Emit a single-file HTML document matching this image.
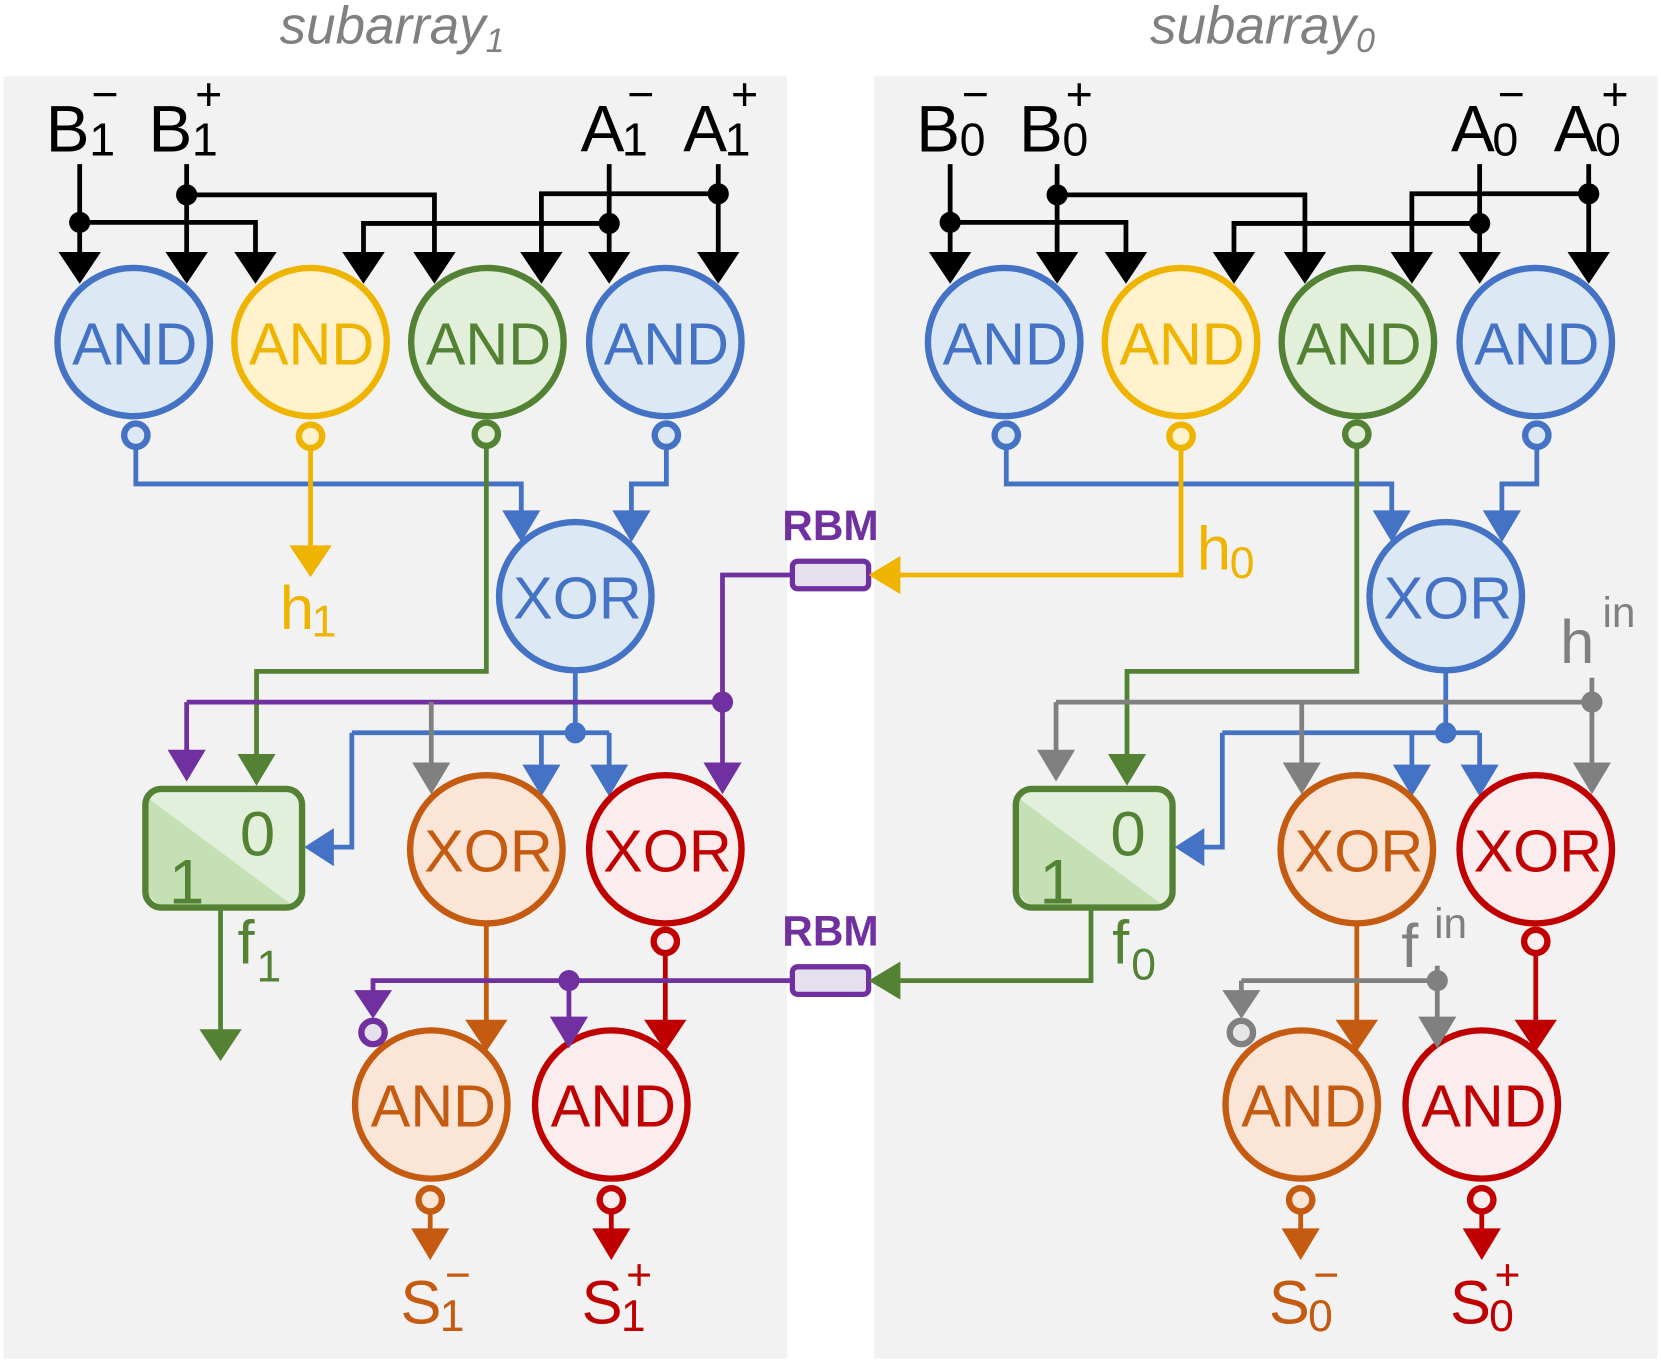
<!DOCTYPE html>
<html><head><meta charset="utf-8"><style>
html,body{margin:0;padding:0;background:#fff;}
svg{display:block;}
text{font-family:"Liberation Sans",sans-serif;}
</style></head><body>
<svg width="1661" height="1365" viewBox="0 0 1568 1289" xmlns="http://www.w3.org/2000/svg">
<rect x="3" y="72" width="740" height="1211" fill="#f2f2f2"/>
<rect x="825" y="72" width="740" height="1211" fill="#f2f2f2"/>
<text x="370" y="41" font-size="50" font-style="italic" fill="#808080" text-anchor="middle">subarray<tspan font-size="32" dy="8">1</tspan></text>
<text x="1192" y="41" font-size="50" font-style="italic" fill="#808080" text-anchor="middle">subarray<tspan font-size="32" dy="8">0</tspan></text>

<g id="L">
<g stroke="#000" stroke-width="4.5" fill="none">
<path d="M75,155V240M176,155V240M575,155V240M678,155V240"/>
<path d="M176,184H410V240M678,183H511V240M75,210H241V240M575,211H343V240"/>
</g>
<g fill="#000">
<circle cx="75" cy="210" r="10"/><circle cx="176" cy="184" r="10"/><circle cx="575" cy="211" r="10"/><circle cx="678" cy="183" r="10"/>
<polygon points="55,238 95,238 75,268"/><polygon points="156,238 196,238 176,268"/><polygon points="221,238 261,238 241,268"/><polygon points="323,238 363,238 343,268"/>
<polygon points="390,238 430,238 410,268"/><polygon points="491,238 531,238 511,268"/><polygon points="555,238 595,238 575,268"/><polygon points="658,238 698,238 678,268"/>
</g>
<g stroke-width="6">
<ellipse cx="126" cy="323" rx="72" ry="70" fill="#dde8f5" stroke="#4472c4"/>
<ellipse cx="293" cy="323" rx="72" ry="70" fill="#fff2cc" stroke="#efb400"/>
<ellipse cx="460" cy="323" rx="72" ry="70" fill="#e2efda" stroke="#548235"/>
<ellipse cx="628" cy="323" rx="72" ry="70" fill="#dde8f5" stroke="#4472c4"/>
<circle cx="128" cy="411" r="11" fill="#dde8f5" stroke="#4472c4"/>
<circle cx="293" cy="412" r="11" fill="#fff2cc" stroke="#efb400"/>
<circle cx="459" cy="410" r="11" fill="#e2efda" stroke="#548235"/>
<circle cx="629" cy="411" r="11" fill="#dde8f5" stroke="#4472c4"/>
</g>
<g font-size="56" text-anchor="middle">
<text x="127" y="344" fill="#4472c4">AND</text>
<text x="294" y="344" fill="#efb400">AND</text>
<text x="461" y="344" fill="#548235">AND</text>
<text x="629" y="344" fill="#4472c4">AND</text>
</g>
<g stroke="#4472c4" stroke-width="4.5" fill="none">
<path d="M128,422V457H492V484M629,422V457H596V484"/>
<path d="M543,633V692M332,692H575M332,692V800H313M511,692V724M575,692V724"/>
</g>
<g fill="#4472c4">
<polygon points="474,482 510,482 492,512"/><polygon points="578,482 614,482 596,512"/>
<circle cx="543" cy="692" r="10"/>
<polygon points="287,800 315,782 315,818"/>
<polygon points="493,722 529,722 511,752"/><polygon points="557,722 593,722 575,752"/>
</g>
<path d="M459,421V634H242V714" stroke="#548235" stroke-width="4.5" fill="none"/>
<polygon points="224,712 260,712 242,742" fill="#548235"/>
<ellipse cx="543" cy="563" rx="72" ry="70" fill="#dde8f5" stroke="#4472c4" stroke-width="6"/>
<text x="545" y="584" font-size="56" text-anchor="middle" fill="#4472c4">XOR</text>
<rect x="137" y="745" width="148" height="112" rx="15" fill="#e2efda"/>
<polygon points="140,754 276,855 150,855 140,845" fill="#c5e0b4"/>
<rect x="137" y="745" width="148" height="112" rx="15" fill="none" stroke="#548235" stroke-width="6"/>
<text x="243" y="808" font-size="60" text-anchor="middle" fill="#548235">0</text>
<text x="176" y="853" font-size="60" text-anchor="middle" fill="#548235">1</text>
<path d="M208,857V974" stroke="#548235" stroke-width="4.5"/>
<polygon points="188,972 228,972 208,1002" fill="#548235"/>
<ellipse cx="459" cy="802" rx="72" ry="70" fill="#fbe5d6" stroke="#c55a11" stroke-width="6"/>
<ellipse cx="628" cy="802" rx="72" ry="70" fill="#fbeced" stroke="#c00000" stroke-width="6"/>
<text x="461" y="823" font-size="56" text-anchor="middle" fill="#c55a11">XOR</text>
<text x="630" y="823" font-size="56" text-anchor="middle" fill="#c00000">XOR</text>
<circle cx="628" cy="889" r="11" fill="#fbeced" stroke="#c00000" stroke-width="6"/>
<path d="M459,872V965" stroke="#c55a11" stroke-width="4.5"/>
<polygon points="439,963 479,963 459,993" fill="#c55a11"/>
<path d="M628,900V965" stroke="#c00000" stroke-width="4.5"/>
<polygon points="608,963 648,963 628,993" fill="#c00000"/>
<ellipse cx="407" cy="1043" rx="72" ry="70" fill="#fbe5d6" stroke="#c55a11" stroke-width="6"/>
<ellipse cx="577" cy="1043" rx="72" ry="70" fill="#fbeced" stroke="#c00000" stroke-width="6"/>
<text x="409" y="1064" font-size="56" text-anchor="middle" fill="#c55a11">AND</text>
<text x="579" y="1064" font-size="56" text-anchor="middle" fill="#c00000">AND</text>
<circle cx="406" cy="1133" r="11" fill="#fbe5d6" stroke="#c55a11" stroke-width="6"/>
<circle cx="577" cy="1133" r="11" fill="#fbeced" stroke="#c00000" stroke-width="6"/>
<path d="M406,1144V1162" stroke="#c55a11" stroke-width="4.5"/>
<polygon points="388,1160 424,1160 406,1190" fill="#c55a11"/>
<path d="M577,1144V1162" stroke="#c00000" stroke-width="4.5"/>
<polygon points="559,1160 595,1160 577,1190" fill="#c00000"/>
</g>

<g transform="translate(822,0)">
<g stroke="#000" stroke-width="4.5" fill="none">
<path d="M75,155V240M176,155V240M575,155V240M678,155V240"/>
<path d="M176,184H410V240M678,183H511V240M75,210H241V240M575,211H343V240"/>
</g>
<g fill="#000">
<circle cx="75" cy="210" r="10"/><circle cx="176" cy="184" r="10"/><circle cx="575" cy="211" r="10"/><circle cx="678" cy="183" r="10"/>
<polygon points="55,238 95,238 75,268"/><polygon points="156,238 196,238 176,268"/><polygon points="221,238 261,238 241,268"/><polygon points="323,238 363,238 343,268"/>
<polygon points="390,238 430,238 410,268"/><polygon points="491,238 531,238 511,268"/><polygon points="555,238 595,238 575,268"/><polygon points="658,238 698,238 678,268"/>
</g>
<g stroke-width="6">
<ellipse cx="126" cy="323" rx="72" ry="70" fill="#dde8f5" stroke="#4472c4"/>
<ellipse cx="293" cy="323" rx="72" ry="70" fill="#fff2cc" stroke="#efb400"/>
<ellipse cx="460" cy="323" rx="72" ry="70" fill="#e2efda" stroke="#548235"/>
<ellipse cx="628" cy="323" rx="72" ry="70" fill="#dde8f5" stroke="#4472c4"/>
<circle cx="128" cy="411" r="11" fill="#dde8f5" stroke="#4472c4"/>
<circle cx="293" cy="412" r="11" fill="#fff2cc" stroke="#efb400"/>
<circle cx="459" cy="410" r="11" fill="#e2efda" stroke="#548235"/>
<circle cx="629" cy="411" r="11" fill="#dde8f5" stroke="#4472c4"/>
</g>
<g font-size="56" text-anchor="middle">
<text x="127" y="344" fill="#4472c4">AND</text>
<text x="294" y="344" fill="#efb400">AND</text>
<text x="461" y="344" fill="#548235">AND</text>
<text x="629" y="344" fill="#4472c4">AND</text>
</g>
<g stroke="#4472c4" stroke-width="4.5" fill="none">
<path d="M128,422V457H492V484M629,422V457H596V484"/>
<path d="M543,633V692M332,692H575M332,692V800H313M511,692V724M575,692V724"/>
</g>
<g fill="#4472c4">
<polygon points="474,482 510,482 492,512"/><polygon points="578,482 614,482 596,512"/>
<circle cx="543" cy="692" r="10"/>
<polygon points="287,800 315,782 315,818"/>
<polygon points="493,722 529,722 511,752"/><polygon points="557,722 593,722 575,752"/>
</g>
<path d="M459,421V634H242V714" stroke="#548235" stroke-width="4.5" fill="none"/>
<polygon points="224,712 260,712 242,742" fill="#548235"/>
<ellipse cx="543" cy="563" rx="72" ry="70" fill="#dde8f5" stroke="#4472c4" stroke-width="6"/>
<text x="545" y="584" font-size="56" text-anchor="middle" fill="#4472c4">XOR</text>
<rect x="137" y="745" width="148" height="112" rx="15" fill="#e2efda"/>
<polygon points="140,754 276,855 150,855 140,845" fill="#c5e0b4"/>
<rect x="137" y="745" width="148" height="112" rx="15" fill="none" stroke="#548235" stroke-width="6"/>
<text x="243" y="808" font-size="60" text-anchor="middle" fill="#548235">0</text>
<text x="176" y="853" font-size="60" text-anchor="middle" fill="#548235">1</text>
<ellipse cx="459" cy="802" rx="72" ry="70" fill="#fbe5d6" stroke="#c55a11" stroke-width="6"/>
<ellipse cx="628" cy="802" rx="72" ry="70" fill="#fbeced" stroke="#c00000" stroke-width="6"/>
<text x="461" y="823" font-size="56" text-anchor="middle" fill="#c55a11">XOR</text>
<text x="630" y="823" font-size="56" text-anchor="middle" fill="#c00000">XOR</text>
<circle cx="628" cy="889" r="11" fill="#fbeced" stroke="#c00000" stroke-width="6"/>
<path d="M459,872V965" stroke="#c55a11" stroke-width="4.5"/>
<polygon points="439,963 479,963 459,993" fill="#c55a11"/>
<path d="M628,900V965" stroke="#c00000" stroke-width="4.5"/>
<polygon points="608,963 648,963 628,993" fill="#c00000"/>
<ellipse cx="407" cy="1043" rx="72" ry="70" fill="#fbe5d6" stroke="#c55a11" stroke-width="6"/>
<ellipse cx="577" cy="1043" rx="72" ry="70" fill="#fbeced" stroke="#c00000" stroke-width="6"/>
<text x="409" y="1064" font-size="56" text-anchor="middle" fill="#c55a11">AND</text>
<text x="579" y="1064" font-size="56" text-anchor="middle" fill="#c00000">AND</text>
<circle cx="406" cy="1133" r="11" fill="#fbe5d6" stroke="#c55a11" stroke-width="6"/>
<circle cx="577" cy="1133" r="11" fill="#fbeced" stroke="#c00000" stroke-width="6"/>
<path d="M406,1144V1162" stroke="#c55a11" stroke-width="4.5"/>
<polygon points="388,1160 424,1160 406,1190" fill="#c55a11"/>
<path d="M577,1144V1162" stroke="#c00000" stroke-width="4.5"/>
<polygon points="559,1160 595,1160 577,1190" fill="#c00000"/>
</g>

<path d="M293,423V517" stroke="#efb400" stroke-width="4.5"/>
<polygon points="273,515 313,515 293,545" fill="#efb400"/>
<g stroke="#7030a0" stroke-width="4.5" fill="none">
<path d="M748,543H682V722M176,663H682M176,663V710"/>
<path d="M748,926H352V937M537,926V962"/>
</g>
<g fill="#7030a0">
<circle cx="682" cy="663" r="10"/><circle cx="537" cy="926" r="10"/>
<polygon points="664,720 700,720 682,750"/>
<polygon points="158,708 194,708 176,738"/>
<polygon points="334,935 370,935 352,962"/>
<polygon points="519,960 555,960 537,990"/>
</g>
<circle cx="352" cy="975" r="11" fill="#e6e0ee" stroke="#7030a0" stroke-width="6"/>
<path d="M407,663V722" stroke="#808080" stroke-width="4.5"/>
<polygon points="389,720 425,720 407,750" fill="#808080"/>
<rect x="748" y="530" width="72" height="26" rx="5" fill="#e6e0ee" stroke="#7030a0" stroke-width="5"/>
<rect x="748" y="913" width="72" height="26" rx="5" fill="#e6e0ee" stroke="#7030a0" stroke-width="5"/>
<text x="784" y="510" font-family="Liberation Mono,monospace" font-weight="bold" font-size="40" fill="#7030a0" text-anchor="middle">RBM</text>
<text x="784" y="893" font-family="Liberation Mono,monospace" font-weight="bold" font-size="40" fill="#7030a0" text-anchor="middle">RBM</text>
<path d="M1115,423V543H848" stroke="#efb400" stroke-width="4.5" fill="none"/>
<polygon points="820,543 850,525 850,561" fill="#efb400"/>
<path d="M1030,857V926H848" stroke="#548235" stroke-width="4.5" fill="none"/>
<polygon points="820,926 850,908 850,944" fill="#548235"/>
<g stroke="#808080" stroke-width="4.5" fill="none">
<path d="M997,663H1503M1503,640V722M997,663V710M1229,663V722"/>
<path d="M1172,926H1357M1357,912V962M1172,926V937"/>
</g>
<g fill="#808080">
<circle cx="1503" cy="663" r="10"/><circle cx="1357" cy="926" r="10"/>
<polygon points="979,708 1015,708 997,738"/>
<polygon points="1211,720 1247,720 1229,750"/>
<polygon points="1485,720 1521,720 1503,750"/>
<polygon points="1154,935 1190,935 1172,962"/>
<polygon points="1339,960 1375,960 1357,990"/>
</g>
<circle cx="1172" cy="975" r="11" fill="#e6e6e6" stroke="#808080" stroke-width="6"/>

<g font-size="62" fill="#000">
<text x="43" y="143">B</text><text x="84" y="147" font-size="44">1</text><text x="86" y="104" font-size="44">−</text>
<text x="140" y="143">B</text><text x="181" y="147" font-size="44">1</text><text x="184" y="104" font-size="44">+</text>
<text x="548" y="143">A</text><text x="587" y="147" font-size="44">1</text><text x="592" y="104" font-size="44">−</text>
<text x="645" y="143">A</text><text x="684" y="147" font-size="44">1</text><text x="690" y="104" font-size="44">+</text>
<text x="865" y="143">B</text><text x="906" y="147" font-size="44">0</text><text x="908" y="104" font-size="44">−</text>
<text x="962" y="143">B</text><text x="1003" y="147" font-size="44">0</text><text x="1006" y="104" font-size="44">+</text>
<text x="1370" y="143">A</text><text x="1409" y="147" font-size="44">0</text><text x="1414" y="104" font-size="44">−</text>
<text x="1467" y="143">A</text><text x="1506" y="147" font-size="44">0</text><text x="1512" y="104" font-size="44">+</text>
</g>
<text x="264" y="594" font-size="58" fill="#efb400">h</text><text x="294" y="601" font-size="42" fill="#efb400">1</text>
<text x="1130" y="538" font-size="58" fill="#efb400">h</text><text x="1161" y="546" font-size="42" fill="#efb400">0</text>
<text x="224" y="910" font-size="58" fill="#548235">f</text><text x="242" y="927" font-size="42" fill="#548235">1</text>
<text x="1050" y="910" font-size="58" fill="#548235">f</text><text x="1068" y="925" font-size="42" fill="#548235">0</text>
<text x="1473" y="626" font-size="58" fill="#808080">h</text><text x="1513" y="592" font-size="40" fill="#808080">in</text>
<text x="1323" y="913" font-size="58" fill="#808080">f</text><text x="1354" y="886" font-size="40" fill="#808080">in</text>
<text x="378" y="1250" font-size="58" fill="#c55a11">S</text><text x="415" y="1257" font-size="42" fill="#c55a11">1</text><text x="420" y="1218" font-size="42" fill="#c55a11">−</text>
<text x="549" y="1250" font-size="58" fill="#c00000">S</text><text x="586" y="1257" font-size="42" fill="#c00000">1</text><text x="591" y="1218" font-size="42" fill="#c00000">+</text>
<text x="1198" y="1250" font-size="58" fill="#c55a11">S</text><text x="1235" y="1257" font-size="42" fill="#c55a11">0</text><text x="1240" y="1218" font-size="42" fill="#c55a11">−</text>
<text x="1369" y="1250" font-size="58" fill="#c00000">S</text><text x="1406" y="1257" font-size="42" fill="#c00000">0</text><text x="1411" y="1218" font-size="42" fill="#c00000">+</text>
</svg>
</body></html>
